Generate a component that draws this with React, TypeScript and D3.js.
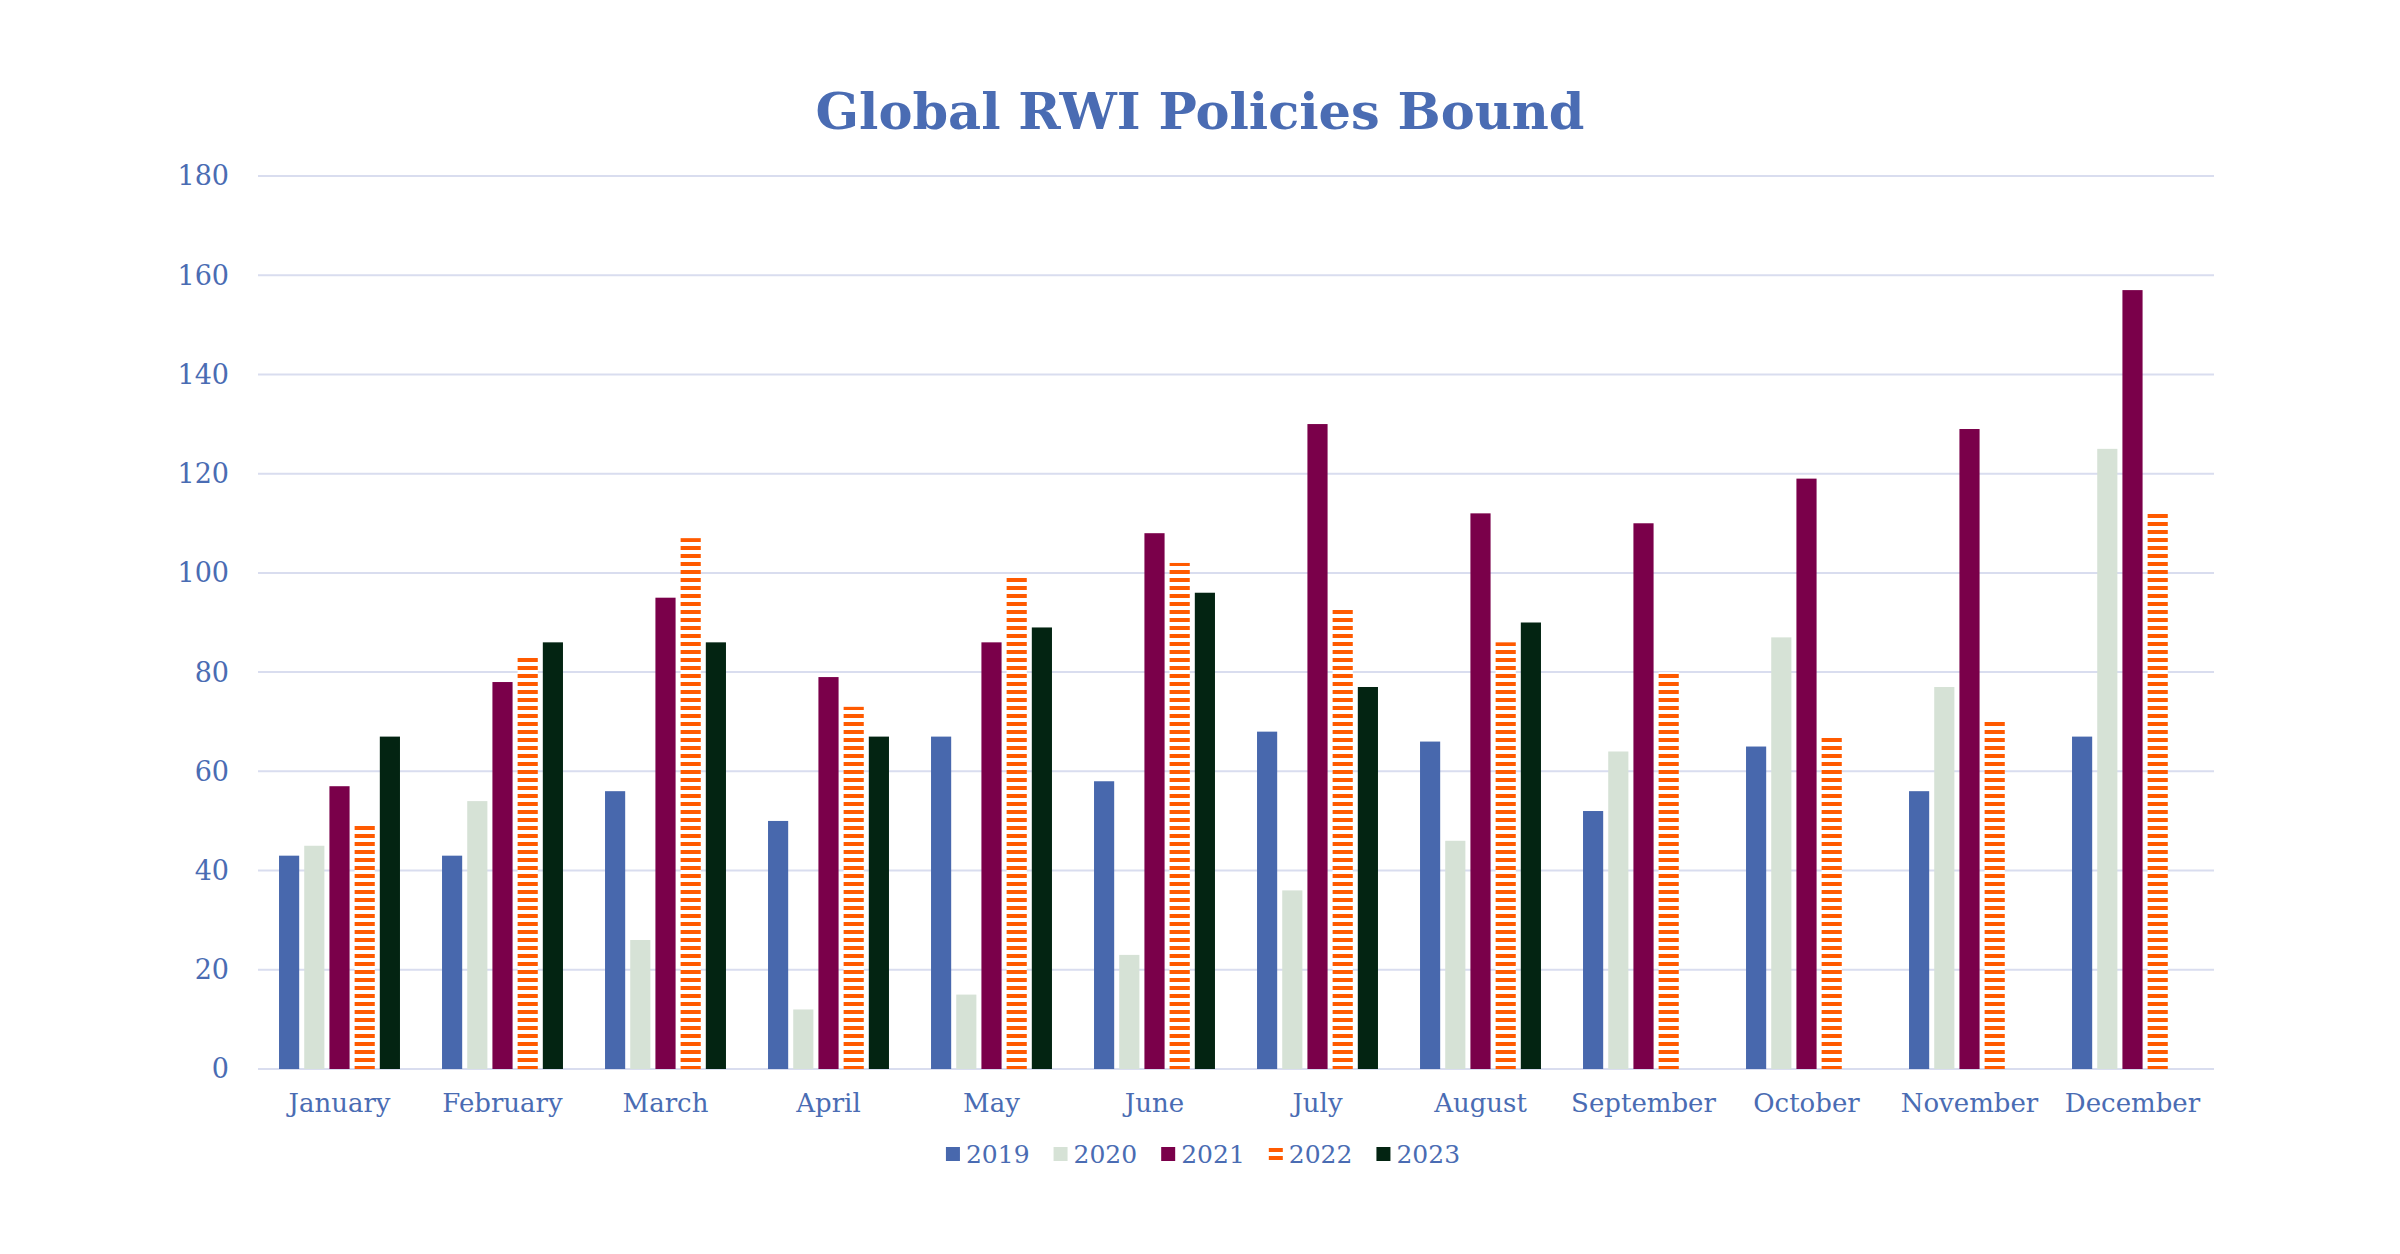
import React, { useEffect, useRef } from 'react';
import * as d3 from 'd3';

const months = ['January', 'February', 'March', 'April', 'May', 'June', 'July', 'August', 'September', 'October', 'November', 'December'];
const years = ['2019', '2020', '2021', '2022', '2023'];

const v2019 = [43, 43, 56, 50, 67, 58, 68, 66, 52, 65, 56, 67];
const v2020 = [45, 54, 26, 12, 15, 23, 36, 46, 64, 87, 77, 125];
const v2021 = [57, 78, 95, 79, 86, 108, 130, 112, 110, 119, 129, 157];
const v2022 = [49, 83, 107, 73, 99, 102, 93, 86, 80, 67, 70, 112];
const v2023 = [67, 86, 86, 67, 89, 96, 77, 90, null, null, null, null];

const yTicks = [0, 20, 40, 60, 80, 100, 120, 140, 160, 180];

const W = 2400;
const H = 1254;
const blue = '#4a6cb3';
const serif = '"DejaVu Serif", Georgia, serif';

export default function App() {
  const ref = useRef<SVGSVGElement>(null);

  useEffect(() => {
    const svg = d3.select(ref.current);
    svg.selectAll('*').remove();

    const series = [v2019, v2020, v2021, v2022, v2023];
    const colors: any = {
      '2019': '#4868ad',
      '2020': '#d6e2d6',
      '2021': '#7a004a',
      '2022': 'url(#stripes)',
      '2023': '#032412',
    };

    const defs = svg.append('defs');
    const pat = defs.append('pattern')
      .attr('id', 'stripes')
      .attr('patternUnits', 'userSpaceOnUse')
      .attr('width', 8)
      .attr('height', 8);
    pat.append('rect').attr('width', 8).attr('height', 8).attr('fill', '#ffffff');
    pat.append('rect').attr('y', 2).attr('width', 8).attr('height', 4).attr('fill', '#ff5a00');

    svg.append('rect').attr('width', W).attr('height', H).attr('fill', '#ffffff');

    const x = d3.scaleBand().domain(months).range([258, 2214]).paddingInner(0.258).paddingOuter(0.129);
    const xs = d3.scaleBand().domain(years).range([0, x.bandwidth()]).paddingInner(0.2).paddingOuter(0);
    const y = d3.scaleLinear().domain([0, 180]).range([1069, 176]);

    // gridlines
    svg.append('g').selectAll('line')
      .data(yTicks)
      .enter()
      .append('line')
      .attr('x1', 258).attr('x2', 2214)
      .attr('y1', (d: any) => y(d)).attr('y2', (d: any) => y(d))
      .attr('stroke', '#d9ddef')
      .attr('stroke-width', 2);

    // y labels
    svg.append('g').selectAll('text')
      .data(yTicks)
      .enter()
      .append('text')
      .attr('x', 229)
      .attr('y', (d: any) => y(d))
      .attr('dy', '0.35em')
      .attr('text-anchor', 'end')
      .style('font-family', serif)
      .style('font-size', '27px')
      .style('fill', blue)
      .text((d: any) => d);

    // bars
    years.forEach((yr, si) => {
      svg.append('g').selectAll('rect')
        .data(series[si].map((v, i) => ({ m: months[i], v })).filter((d) => d.v !== null))
        .enter()
        .append('rect')
        .attr('x', (d: any) => (x(d.m) as number) + (xs(yr) as number))
        .attr('width', xs.bandwidth())
        .attr('y', (d: any) => y(d.v))
        .attr('height', (d: any) => y(0) - y(d.v))
        .attr('fill', colors[yr]);
    });

    // month labels
    svg.append('g').selectAll('text')
      .data(months)
      .enter()
      .append('text')
      .attr('x', (d: any) => (x(d) as number) + x.bandwidth() / 2)
      .attr('y', 1103)
      .attr('dy', '0.35em')
      .attr('text-anchor', 'middle')
      .style('font-family', serif)
      .style('font-size', '26px')
      .style('fill', blue)
      .text((d: any) => d);

    // title
    svg.append('text')
      .attr('x', 1200)
      .attr('y', 129)
      .attr('text-anchor', 'middle')
      .style('font-family', serif)
      .style('font-weight', 'bold')
      .style('font-size', '51px')
      .style('fill', blue)
      .text('Global RWI Policies Bound');

    // legend
    const lg = svg.append('g');
    let cx = 0;
    years.forEach((yr) => {
      const item = lg.append('g').attr('transform', 'translate(' + cx + ',0)');
      item.append('rect')
        .attr('x', 0).attr('y', -7)
        .attr('width', 14).attr('height', 14)
        .attr('fill', colors[yr]);
      const t = item.append('text')
        .attr('x', 20)
        .attr('y', 0)
        .attr('dy', '0.35em')
        .style('font-family', serif)
        .style('font-size', '25px')
        .style('fill', blue)
        .text(yr);
      const tw = (t.node() as SVGTextElement).getComputedTextLength();
      cx += 20 + tw + 24;
    });
    const total = cx - 24;
    lg.attr('transform', 'translate(' + (1203 - total / 2) + ',1154)');
  }, []);

  return (
    <svg ref={ref} width={W} height={H} style={{ position: 'absolute', left: 0, top: 0, display: 'block' }} />
  );
}
